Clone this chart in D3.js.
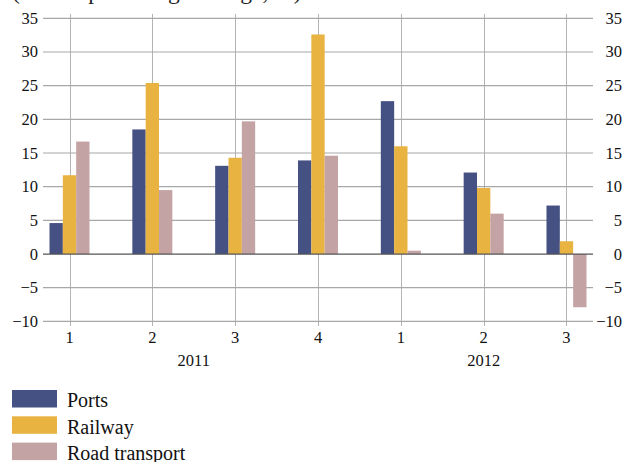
<!DOCTYPE html>
<html><head><meta charset="utf-8">
<script src="https://cdn.jsdelivr.net/npm/d3@7"></script>
<style>body{margin:0;background:#fff}text{font-family:"Liberation Serif","Times New Roman",serif}</style>
</head><body><svg id="c" width="624" height="462"></svg>
<script>
const quarters = ["1","2","3","4","1","2","3"];
const years = [{label:"2011", from:0, to:3},{label:"2012", from:4, to:6}];
const seriesNames = ["Ports","Railway","Road transport"];
const ports = [4.6, 18.5, 13.1, 13.9, 22.7, 12.1, 7.2];
const railway = [11.7, 25.4, 14.3, 32.6, 16.0, 9.8, 1.9];
const road = [16.7, 9.5, 19.7, 14.6, 0.5, 6.0, -7.9];
const yTicks = [-10,-5,0,5,10,15,20,25,30,35];
const colors = ["#455083","#e8b341","#c4a3a5"];
const titleText = "(annual percentage change, %)";

const FONT = "Liberation Serif";
const svg = d3.select("#c");
const L = 43, R = 593, T = 18.3, B = 321.4;
const y = d3.scaleLinear().domain([-10,35]).range([B,T]);
const x = d3.scalePoint().domain(d3.range(quarters.length)).range([L,R]).padding(0.32);
const x1 = d3.scaleBand().domain(seriesNames).range([-20,20]);
const data = [ports, railway, road];

svg.append("text").attr("x",12).attr("y",-1).attr("font-family",FONT).attr("font-size",23.5).attr("fill","#222").text(titleText);

// vertical gridlines
svg.append("g").selectAll("line").data(d3.range(quarters.length)).join("line")
  .attr("x1",d=>Math.round(x(d))+0.5).attr("x2",d=>Math.round(x(d))+0.5)
  .attr("y1",14).attr("y2",326).attr("stroke","#b4b4b4").attr("stroke-width",1);

// horizontal gridlines
svg.append("g").selectAll("line").data(yTicks.filter(t=>t!==0)).join("line")
  .attr("x1",L).attr("x2",R).attr("y1",d=>y(d)).attr("y2",d=>y(d))
  .attr("stroke","#a8a8a8").attr("stroke-width",1.2);

// bars
seriesNames.forEach((s,si)=>{
  svg.append("g").selectAll("rect").data(data[si]).join("rect")
    .attr("x",(d,i)=>x(i)+x1(s)).attr("width",x1.bandwidth())
    .attr("y",d=>y(Math.max(0,d))).attr("height",d=>Math.abs(y(d)-y(0)))
    .attr("fill",colors[si]);
});

// zero line
svg.append("line").attr("x1",L).attr("x2",R).attr("y1",y(0)).attr("y2",y(0))
  .attr("stroke","#555").attr("stroke-width",1.2);

// y labels
const yl = svg.append("g").attr("font-family",FONT).attr("font-size",16.5).attr("fill","#111");
yl.selectAll("text.l").data(yTicks).join("text").attr("class","l")
  .attr("x",38).attr("y",d=>y(d)+5.5).attr("text-anchor","end")
  .text(d=>d<0?"\u2212"+Math.abs(d):d);
yl.selectAll("text.r").data(yTicks).join("text").attr("class","r")
  .attr("x",622).attr("y",d=>y(d)+5.5).attr("text-anchor","end")
  .text(d=>d<0?"\u2212"+Math.abs(d):d);

// x labels
svg.append("g").attr("font-family",FONT).attr("font-size",16.5).attr("fill","#111").selectAll("text").data(quarters).join("text")
  .attr("x",(d,i)=>x(i)).attr("y",343).attr("text-anchor","middle").text(d=>d);
svg.append("g").attr("font-family",FONT).attr("font-size",16.5).attr("fill","#111").selectAll("text").data(years).join("text")
  .attr("x",d=>(x(d.from)+x(d.to))/2).attr("y",366).attr("text-anchor","middle").text(d=>d.label);

// legend
const lg = svg.append("g");
seriesNames.forEach((s,i)=>{
  const yy = 390 + i*26.3;
  lg.append("rect").attr("x",12).attr("y",yy).attr("width",45).attr("height",17.5).attr("fill",colors[i]);
  lg.append("text").attr("x",67).attr("y",yy+17.3).attr("font-family",FONT).attr("font-size",20).attr("fill","#111").text(s);
});
</script></body></html>
